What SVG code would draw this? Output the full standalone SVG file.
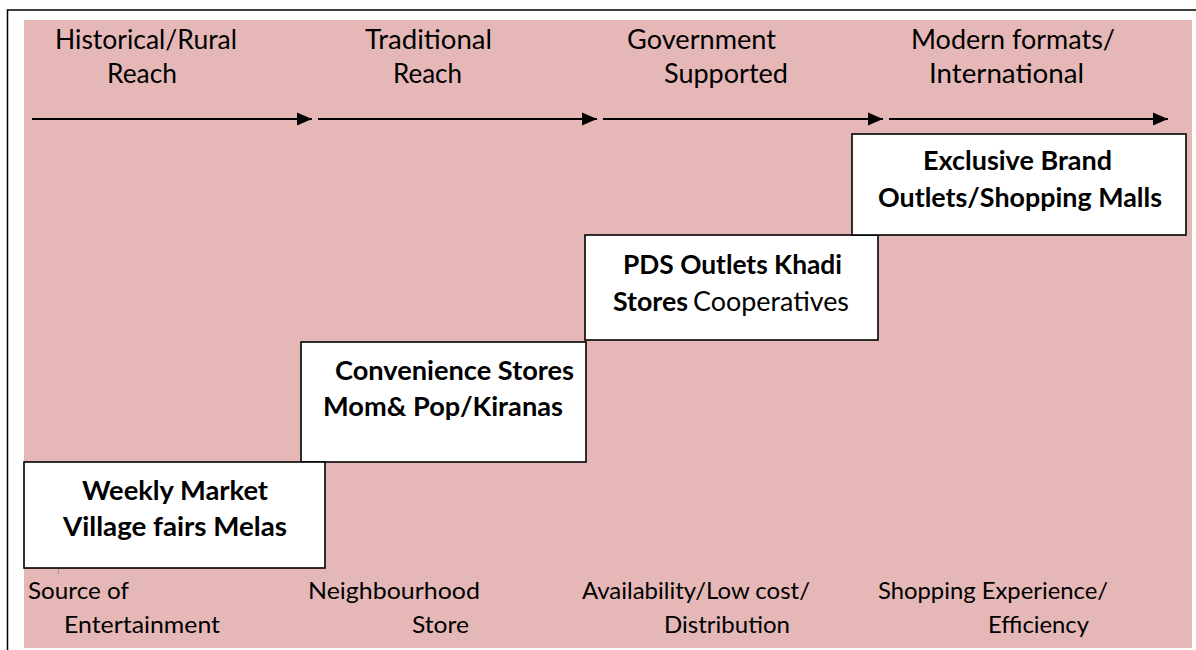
<svg xmlns="http://www.w3.org/2000/svg" width="1196" height="650" viewBox="0 0 1196 650">
<defs>
<marker id="ah" markerUnits="userSpaceOnUse" markerWidth="16" markerHeight="14" refX="15" refY="7" orient="auto">
<path d="M0,0.5 L15,7 L0,13.5 Z" fill="#000"/>
</marker>
<style>
.t{font-family:Lato,"Open Sans","Liberation Sans",sans-serif;font-size:26px;fill:#000;}
.s{font-size:24px;}
.b{font-weight:bold;}
.box{fill:#fff;stroke:#000;stroke-width:1.6;}
.arr{stroke:#000;stroke-width:2;fill:none;marker-end:url(#ah);}
</style>
</defs>
<rect x="0" y="0" width="1196" height="650" fill="#fff"/>
<rect x="7.5" y="10" width="1200" height="700" fill="none" stroke="#000" stroke-width="1.5"/>
<rect x="24" y="20" width="1168" height="628" fill="#E5B8B7"/>
<line x1="58.5" y1="568" x2="58.5" y2="574" stroke="#999" stroke-width="1"/>

<g id="connectors">
<line class="arr" x1="32" y1="119" x2="312" y2="119"/>
<line class="arr" x1="318" y1="119" x2="597" y2="119"/>
<line class="arr" x1="603" y1="119" x2="883" y2="119"/>
<line class="arr" x1="889" y1="119" x2="1168" y2="119"/>
</g>

<g id="top-labels">
<text class="t" x="55" y="49" textLength="182" lengthAdjust="spacingAndGlyphs">Historical/Rural</text>
<text class="t" x="107" y="83" textLength="70" lengthAdjust="spacingAndGlyphs">Reach</text>
<text class="t" x="365" y="49" textLength="127" lengthAdjust="spacingAndGlyphs">Traditional</text>
<text class="t" x="393" y="83" textLength="69" lengthAdjust="spacingAndGlyphs">Reach</text>
<text class="t" x="627" y="49" textLength="149" lengthAdjust="spacingAndGlyphs">Government</text>
<text class="t" x="664" y="83" textLength="124" lengthAdjust="spacingAndGlyphs">Supported</text>
<text class="t" x="911" y="49" textLength="204" lengthAdjust="spacingAndGlyphs">Modern formats/</text>
<text class="t" x="929" y="83" textLength="155" lengthAdjust="spacingAndGlyphs">International</text>
</g>

<g id="node-convenience">
<rect class="box" x="301" y="342" width="285" height="120"/>
<text class="t b" x="335" y="380" textLength="239" lengthAdjust="spacingAndGlyphs">Convenience Stores</text>
<text class="t b" x="323" y="416" textLength="240" lengthAdjust="spacingAndGlyphs">Mom&amp; Pop/Kiranas</text>
</g>

<g id="node-weekly">
<rect class="box" x="24" y="462" width="301" height="106"/>
<text class="t b" x="82" y="500" textLength="186" lengthAdjust="spacingAndGlyphs">Weekly Market</text>
<text class="t b" x="63" y="536" textLength="224" lengthAdjust="spacingAndGlyphs">Village fairs Melas</text>
</g>

<g id="node-pds">
<rect class="box" x="585" y="235" width="293" height="105"/>
<text class="t b" x="623" y="274" textLength="219" lengthAdjust="spacingAndGlyphs">PDS Outlets Khadi</text>
<text class="t b" x="613" y="311" textLength="75" lengthAdjust="spacingAndGlyphs">Stores</text>
<text class="t" x="693" y="311" textLength="156" lengthAdjust="spacingAndGlyphs">Cooperatives</text>
</g>

<g id="node-exclusive">
<rect class="box" x="852" y="134" width="334" height="101"/>
<text class="t b" x="923" y="170" textLength="189" lengthAdjust="spacingAndGlyphs">Exclusive Brand</text>
<text class="t b" x="878" y="207" textLength="284" lengthAdjust="spacingAndGlyphs">Outlets/Shopping Malls</text>
</g>

<g id="bottom-labels">
<text class="t s" x="28" y="599" textLength="101" lengthAdjust="spacingAndGlyphs">Source of</text>
<text class="t s" x="64" y="633" textLength="156" lengthAdjust="spacingAndGlyphs">Entertainment</text>
<text class="t s" x="308" y="599" textLength="172" lengthAdjust="spacingAndGlyphs">Neighbourhood</text>
<text class="t s" x="412" y="633" textLength="57" lengthAdjust="spacingAndGlyphs">Store</text>
<text class="t s" x="582" y="599" textLength="228" lengthAdjust="spacingAndGlyphs">Availability/Low cost/</text>
<text class="t s" x="664" y="633" textLength="126" lengthAdjust="spacingAndGlyphs">Distribution</text>
<text class="t s" x="878" y="599" textLength="230" lengthAdjust="spacingAndGlyphs">Shopping Experience/</text>
<text class="t s" x="988" y="633" textLength="101" lengthAdjust="spacingAndGlyphs">Efficiency</text>
</g>
</svg>
